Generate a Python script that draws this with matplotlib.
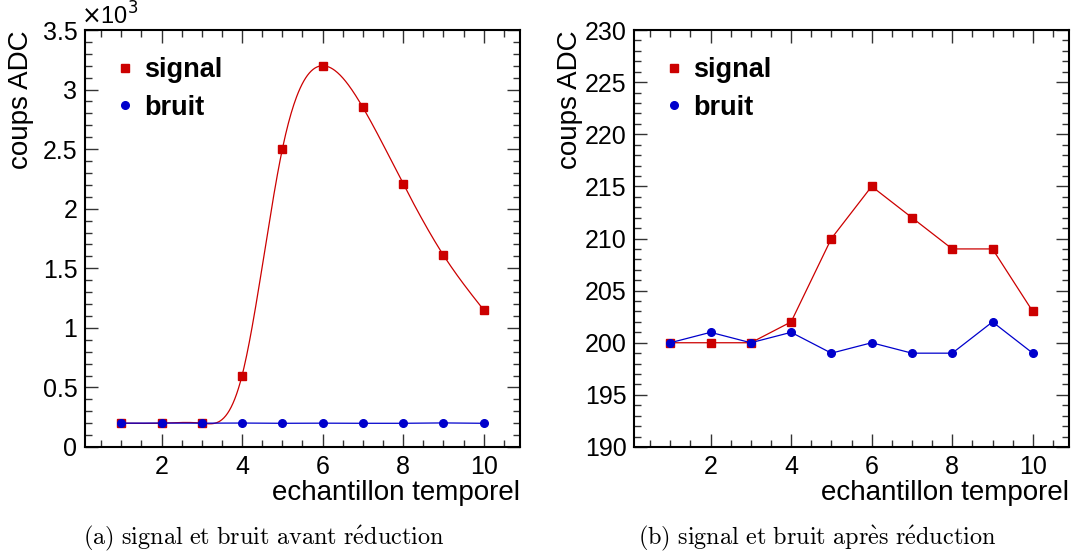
"""Signal et bruit avant / apres reduction (style ROOT)
"""

import numpy as np
import matplotlib.pyplot as plt
from matplotlib.lines import Line2D
from matplotlib.ticker import MultipleLocator, FuncFormatter

plt.rcParams['font.family'] = ['Liberation Sans', 'DejaVu Sans']
plt.rcParams['mathtext.fontset'] = 'cm'

# donnees
echantillon = [1, 2, 3, 4, 5, 6, 7, 8, 9, 10]
signal_avant = [200, 200, 200, 600, 2500, 3200, 2850, 2210, 1610, 1150]
bruit_avant = [200, 201, 200, 201, 199, 200, 199, 199, 202, 199]
signal_apres = [200, 200, 200, 202, 210, 215, 212, 209, 209, 203]
bruit_apres = [200, 201, 200, 201, 199, 200, 199, 199, 202, 199]

RED = '#cc0000'
BLUE = '#0000cc'


def smooth_curve(x, y, n=400):
    """courbe lisse (spline cubique naturelle) comme l'option 'C' de ROOT"""
    x = np.asarray(x, float)
    y = np.asarray(y, float)
    k = len(x)
    h = np.diff(x)
    A = np.zeros((k, k))
    b = np.zeros(k)
    A[0, 0] = A[-1, -1] = 1
    for i in range(1, k - 1):
        A[i, i - 1] = h[i - 1]
        A[i, i] = 2 * (h[i - 1] + h[i])
        A[i, i + 1] = h[i]
        b[i] = 6 * ((y[i + 1] - y[i]) / h[i] - (y[i] - y[i - 1]) / h[i - 1])
    M = np.linalg.solve(A, b)
    xs = np.linspace(x[0], x[-1], n)
    idx = np.clip(np.searchsorted(x, xs) - 1, 0, k - 2)
    x0, x1 = x[idx], x[idx + 1]
    hh = x1 - x0
    t0, t1 = x1 - xs, xs - x0
    ys = (M[idx] * t0**3 / (6 * hh) + M[idx + 1] * t1**3 / (6 * hh)
          + (y[idx] / hh - M[idx] * hh / 6) * t0
          + (y[idx + 1] / hh - M[idx + 1] * hh / 6) * t1)
    return xs, ys


def style_axes(ax, ymin, ymax, ymajor, yminor):
    ax.set_xlim(0.1, 10.9)
    ax.set_ylim(ymin, ymax)
    ax.xaxis.set_major_locator(MultipleLocator(2))
    ax.xaxis.set_minor_locator(MultipleLocator(0.5))
    ax.yaxis.set_major_locator(MultipleLocator(ymajor))
    ax.yaxis.set_minor_locator(MultipleLocator(yminor))
    ax.tick_params(which='both', direction='in', top=True, right=True,
                   labelsize=18, width=1.0, color='#333333')
    ax.tick_params(which='major', length=9.5, pad=5.5)
    ax.tick_params(which='minor', length=5)
    for s in ax.spines.values():
        s.set_linewidth(1.5)
    ax.set_xlabel('echantillon temporel', fontsize=20, loc='right')
    ax.xaxis.set_label_coords(1.0, -0.08)
    ax.set_ylabel('coups ADC', fontsize=20, loc='top')
    ax.yaxis.set_label_coords(-0.117, 1.0)
    handles = [Line2D([], [], color=RED, marker='s', ls='none', markersize=6),
               Line2D([], [], color=BLUE, marker='o', ls='none', markersize=5.5)]
    ax.legend(handles, ['signal', 'bruit'], loc='upper left',
              bbox_to_anchor=(0.03, 0.98), frameon=False, handlelength=0.6,
              handletextpad=0.4, labelspacing=0.42, borderaxespad=0.3,
              prop={'weight': 'bold', 'size': 19.5})


fig = plt.figure(figsize=(10.77, 5.6), dpi=100)
ax1 = fig.add_axes([0.0789, 0.2018, 0.4039, 0.7446])
ax2 = fig.add_axes([0.5887, 0.2018, 0.4039, 0.7446])

# (a) avant reduction
xs, ys = smooth_curve(echantillon, signal_avant)
ax1.plot(xs, ys, color=RED, lw=0.9)
ax1.plot(echantillon, signal_avant, 's', color=RED, markersize=6)
ax1.plot(echantillon, bruit_avant, '-o', color=BLUE, lw=0.9, markersize=5.5)
style_axes(ax1, 0, 3500, 500, 100)
ax1.yaxis.set_major_formatter(FuncFormatter(lambda v, p: '%g' % (v / 1000)))
ax1.text(-0.01, 1.0, r'$\times$10$^{3}$', transform=ax1.transAxes,
         fontsize=17, ha='left', va='bottom',
         math_fontfamily='dejavusans')

# (b) apres reduction
ax2.plot(echantillon, signal_apres, '-s', color=RED, lw=0.9, markersize=6)
ax2.plot(echantillon, bruit_apres, '-o', color=BLUE, lw=0.9, markersize=5.5)
style_axes(ax2, 190, 230, 5, 1)

# legendes sous les figures
fig.text(0.245, 0.013, r"$\mathrm{(a)\ signal\ et\ bruit\ avant\ r\'eduction}$",
         fontsize=17.5, ha='center', va='bottom')
fig.text(0.759, 0.013, r"$\mathrm{(b)\ signal\ et\ bruit\ apr\`es\ r\'eduction}$",
         fontsize=17.5, ha='center', va='bottom')

fig.savefig('out.png', dpi=100)
